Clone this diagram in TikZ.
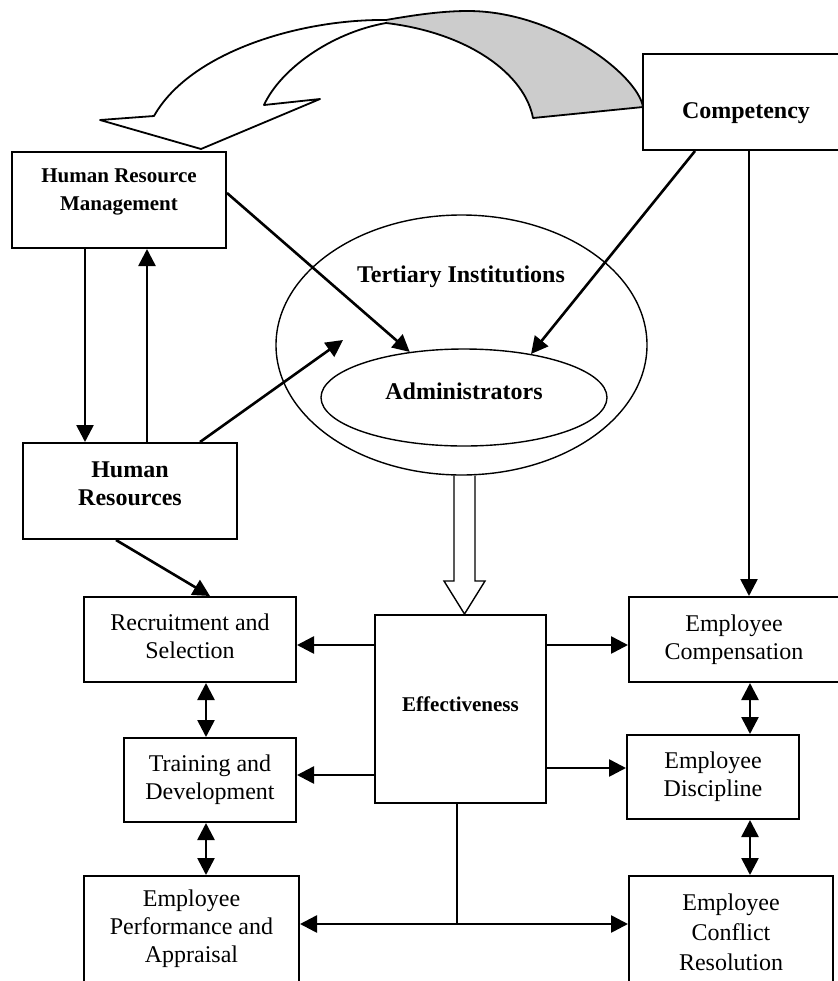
\documentclass[tikz,border=0pt]{standalone}
\usepackage{fontspec}
\setmainfont{Liberation Serif}
\usepackage{tkz-euclide}
\usetikzlibrary{arrows.meta,shapes.geometric}

\tikzset{
    box/.style={draw, line width=1pt, inner sep=0pt, align=center,
        font=\fontsize{12}{14}\selectfont},
    bbox/.style={box, font=\fontsize{12}{14}\selectfont\bfseries},
    sbox/.style={box, font=\fontsize{10.5}{14}\selectfont\bfseries},
    oval/.style={draw, ellipse, line width=0.7pt, inner sep=0pt},
    arr/.style={line width=1.3pt, -{Triangle[length=8.5pt,width=8.5pt]}},
    dblarr/.style={line width=1.3pt,
        {Triangle[length=8.5pt,width=8.5pt]}-{Triangle[length=8.5pt,width=8.5pt]}},
}

\begin{document}
\begin{tikzpicture}[x=0.5pt, y=-0.5pt]
    \useasboundingbox (0,0) rectangle (838,981);
    \clip (0,0) rectangle (838,981);

    \tkzDefPoint(154,116){A}
    \tkzDefPoint(100,120){B}
    \tkzDefPoint(201,149){C}
    \tkzDefPoint(320,99){D}
    \tkzDefPoint(264,105){E}
    \tkzDefPoint(386,23){F}
    \tkzDefPoint(468,11){G}
    \tkzDefPoint(643,107){H}
    \tkzDefPoint(533,118){I}
    \tkzDefPoint(386,20){Q}
    \fill[gray!40] (Q) .. controls (420,14) and (445,11) .. (G)
        .. controls (555,11) and (638,75) .. (H) -- (I)
        .. controls (525,75) and (470,33) .. (F) -- cycle;
    \draw[line width=0.9pt, line join=round] (A) .. controls (190,52) and (300,19) .. (Q)
        .. controls (420,14) and (445,11) .. (G)
        .. controls (555,11) and (638,75) .. (H) -- (I)
        .. controls (525,75) and (470,33) .. (F)
        .. controls (330,33) and (280,70) .. (E) -- (D) -- (C) -- (B) -- cycle;

    \node[sbox, minimum width=107pt, minimum height=48pt, text depth=10pt] (hrm) at (119,200) {Human Resource\\Management};
    \node[bbox, minimum width=107pt, minimum height=48pt, text depth=7pt] (hr) at (130,491) {Human\\Resources};
    \node[bbox, minimum width=103pt, minimum height=48pt, text height=19pt] (comp) at (746,102) {Competency};

    \node[oval, minimum width=185.5pt, minimum height=130pt] (ti) at (461.5,345) {};
    \node[font=\fontsize{12}{14}\selectfont\bfseries] (tilab) at (461,277) {Tertiary Institutions};
    \node[oval, minimum width=143pt, minimum height=48.5pt, text depth=6.5pt,
        font=\fontsize{12}{14}\selectfont\bfseries] (adm) at (464,397.5) {Administrators};

    \node[sbox, minimum width=85.5pt, minimum height=94pt, text depth=5pt] (eff) at (460.5,709) {Effectiveness};
    \node[box, minimum width=106pt, minimum height=42.5pt, text depth=3pt] (rec) at (190,639.5) {Recruitment and\\Selection};
    \node[box, minimum width=86pt, minimum height=42pt] (train) at (210,780) {Training and\\Development};
    \node[box, minimum width=107.5pt, minimum height=53pt] (perf) at (191.5,929) {Employee\\Performance and\\Appraisal};
    \node[box, minimum width=105pt, minimum height=42.5pt] (compens) at (734,639.5) {Employee\\Compensation};
    \node[box, minimum width=86pt, minimum height=42pt] (disc) at (713,777) {Employee\\Discipline};
    \node[box, font=\fontsize{12}{15}\selectfont, minimum width=102pt, minimum height=56pt] (confl) at (731,932) {Employee\\Conflict\\Resolution};

    \coordinate (hrtip) at (343,340);
    \coordinate (btip) at (eff.north -| 464.5,0);
    \coordinate (jn) at (457,924);

    \draw[line width=0.7pt] (ti.south -| 454,0) -- (454,581) -- (444,581) -- (btip)
        -- (485,581) -- (475,581) -- (ti.south -| 475,0);

    \draw[arr] (hrm.south -| 85,0) -- (hr.north -| 85,0);
    \draw[arr] (hr.north -| 147,0) -- (hrm.south -| 147,0);
    \draw[arr] (hrm.east |- 0,193) -- (adm.140);
    \draw[arr] (hr.north -| 200,0) -- (hrtip);
    \draw[arr] (comp.south -| 695,0) -- (adm.33);
    \draw[arr] (comp.south -| 749,0) -- (compens.north -| 749,0);
    \draw[arr] (hr.south -| 116,0) -- (rec.north -| 210,0);

    \draw[arr] (eff.west |- 0,645) -- (rec.east |- 0,645);
    \draw[arr] (eff.west |- 0,775) -- (train.east |- 0,775);
    \draw[arr] (eff.east |- 0,645) -- (compens.west |- 0,645);
    \draw[arr] (eff.east |- 0,768) -- (disc.west |- 0,768);

    \draw[dblarr] (rec.south -| 206,0) -- (train.north -| 206,0);
    \draw[dblarr] (train.south -| 206,0) -- (perf.north -| 206,0);
    \draw[dblarr] (compens.south -| 750,0) -- (disc.north -| 750,0);
    \draw[dblarr] (disc.south -| 750,0) -- (confl.north -| 750,0);

    \draw[line width=1.3pt] (eff.south -| jn) -- (jn);
    \draw[dblarr] (perf.east |- jn) -- (confl.west |- jn);
\end{tikzpicture}
\end{document}
